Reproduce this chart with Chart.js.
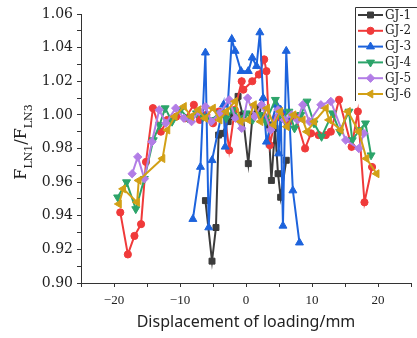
<!DOCTYPE html>
<html>
<head>
<meta charset="utf-8">
<script src="https://cdn.jsdelivr.net/npm/chart.js@4/dist/chart.umd.min.js"></script>
<style>
  html, body { margin: 0; padding: 0; background: #fff; }
</style>
</head>
<body>
<canvas id="grafico" width="417" height="338"></canvas>
<script>
// dados: [deslocamento (mm), F_LN1/F_LN3]
const seriesNames = ["GJ-1", "GJ-2", "GJ-3", "GJ-4", "GJ-5", "GJ-6"];

const gj1 = [[-6.15,0.949],[-5.15,0.913],[-4.55,0.933],[-4.15,0.988],[-3.6,0.989],[-2.7,0.996],[-1.9,0.999],[-1.2,1.011],[-0.5,1.000],[0.35,0.971],[1.0,1.000],[1.8,1.004],[2.6,0.999],[3.4,0.994],[3.85,0.961],[4.4,0.992],[4.85,0.965],[5.25,0.951],[6.1,0.973]];

const gj2 = [[-19.05,0.942],[-17.9,0.917],[-16.9,0.928],[-15.9,0.935],[-15.15,0.972],[-14.1,1.004],[-12.9,0.990],[-11.9,0.997],[-10.55,0.999],[-9.2,0.998],[-7.9,1.006],[-7.0,0.997],[-6.0,1.000],[-5.0,0.995],[-4.1,1.002],[-3.2,1.000],[-2.55,0.979],[-1.7,1.003],[-0.65,1.020],[-0.4,1.015],[0.95,1.020],[1.95,1.024],[2.75,1.033],[3.1,1.026],[3.6,0.982],[4.5,0.998],[5.5,1.000],[6.5,0.996],[7.5,0.999],[8.95,0.980],[9.85,0.989],[11.0,0.988],[12.1,0.988],[12.85,0.990],[14.1,1.009],[16.0,0.981],[16.95,1.002],[17.95,0.948],[19.1,0.969]];

const gj3 = [[-8.05,0.938],[-6.9,0.969],[-6.15,1.037],[-5.65,0.933],[-5.15,0.973],[-3.4,1.006],[-3.15,0.981],[-2.15,1.045],[-1.65,1.038],[-0.75,1.026],[0.35,1.026],[0.95,1.034],[1.6,1.029],[2.1,1.049],[2.6,1.010],[3.1,0.984],[4.6,1.006],[4.95,0.977],[5.25,1.003],[5.6,0.934],[6.1,1.038],[7.1,0.955],[8.1,0.924]];

const gj4 = [[-19.45,0.951],[-18.1,0.960],[-16.7,0.944],[-15.4,0.962],[-14.05,0.985],[-13.1,0.994],[-12.25,1.004],[-11.2,0.996],[-9.9,1.003],[-8.8,0.998],[-7.5,1.001],[-6.5,0.999],[-5.3,0.997],[-4.0,1.001],[-3.0,0.998],[-2.0,1.003],[-1.0,0.998],[0.0,1.001],[1.0,0.997],[2.0,1.000],[3.0,0.996],[4.45,1.009],[5.5,0.998],[6.5,1.002],[7.35,0.992],[8.3,1.000],[9.25,1.008],[10.3,0.995],[11.45,0.987],[13.1,1.001],[14.2,0.990],[15.6,1.002],[16.1,0.985],[17.2,0.991],[18.1,0.995],[18.95,0.976]];

const gj5 = [[-17.25,0.965],[-16.4,0.975],[-15.4,0.962],[-14.25,0.984],[-13.15,1.003],[-12.15,0.995],[-10.65,1.004],[-9.4,0.998],[-8.25,0.996],[-7.1,1.002],[-6.15,1.005],[-5.25,0.996],[-4.0,1.001],[-2.55,1.009],[-1.6,0.998],[-0.65,0.992],[0.25,1.010],[1.3,0.999],[2.35,1.006],[3.75,0.991],[4.85,1.003],[5.8,0.997],[6.9,1.000],[7.8,0.997],[8.6,1.006],[9.6,0.996],[11.35,1.006],[12.85,1.008],[15.1,0.985],[17.1,0.980],[17.85,0.989]];

const gj6 = [[-19.25,0.947],[-18.6,0.956],[-16.5,0.948],[-16.25,0.961],[-12.65,0.974],[-11.9,0.991],[-10.8,0.999],[-9.4,1.005],[-8.3,0.999],[-7.2,1.003],[-6.2,0.998],[-5.0,1.004],[-4.0,0.997],[-3.0,1.002],[-1.65,1.008],[-0.8,0.996],[0.35,0.997],[1.2,1.006],[2.2,0.996],[3.2,1.004],[4.2,0.994],[5.2,1.002],[6.2,0.993],[7.2,1.000],[8.6,0.997],[9.25,0.990],[10.35,0.996],[12.1,1.004],[12.6,0.997],[14.35,0.991],[15.45,1.002],[17.1,0.990],[18.25,0.974],[19.8,0.965]];

const xTickLabels = [-20, -10, 0, 10, 20];
const yTickLabels = [0.90, 0.92, 0.94, 0.96, 0.98, 1.00, 1.02, 1.04, 1.06];

// estilo
const cores = ["#3b3b3b", "#f03a3a", "#1d63dc", "#2ca46a", "#b27de6", "#d2a016"];
const marcadores = [
  { style: "rect", rot: 0, r: 4.2 },
  { style: "circle", rot: 0, r: 3.6 },
  { style: "triangle", rot: 0, r: 4.6 },
  { style: "triangle", rot: 180, r: 4.6 },
  { style: "rectRot", rot: 0, r: 4.2 },
  { style: "triangle", rot: -90, r: 4.6 }
];
const todas = [gj1, gj2, gj3, gj4, gj5, gj6];

const datasets = todas.map((serie, i) => ({
  label: seriesNames[i],
  data: serie.map(p => ({ x: p[0], y: p[1] })),
  showLine: true,
  borderColor: cores[i],
  backgroundColor: cores[i],
  borderWidth: 2,
  pointStyle: marcadores[i].style,
  rotation: marcadores[i].rot,
  pointRadius: marcadores[i].r,
  pointBorderWidth: 1,
  tension: 0,
  order: 6 - i
}));

// titulo do eixo Y com subscritos
const tituloY = {
  id: "tituloY",
  afterDraw(chart) {
    const ctx = chart.ctx;
    const partes = [["F", 16, 0], ["LN1", 11, 6], ["/F", 16, 0], ["LN3", 11, 6]];
    ctx.save();
    let total = 0;
    partes.forEach(p => { ctx.font = p[1] + "px 'DejaVu Serif'"; total += ctx.measureText(p[0]).width; });
    ctx.translate(22, 142);
    ctx.rotate(-Math.PI / 2);
    ctx.fillStyle = "#222";
    ctx.textBaseline = "alphabetic";
    let x = -total / 2;
    partes.forEach(p => {
      ctx.font = p[1] + "px 'DejaVu Serif'";
      ctx.fillText(p[0], x, 4 + p[2]);
      x += ctx.measureText(p[0]).width;
    });
    ctx.restore();
  }
};

// legenda desenhada a mao (caixa no canto superior direito)
const legenda = {
  id: "legenda",
  afterDraw(chart) {
    const ctx = chart.ctx;
    ctx.save();
    ctx.strokeStyle = "#333";
    ctx.lineWidth = 1;
    ctx.beginPath();
    ctx.moveTo(355.5, 101);
    ctx.lineTo(355.5, 7.5);
    ctx.lineTo(417, 7.5);
    ctx.stroke();
    seriesNames.forEach((nome, i) => {
      const y = 15 + i * 15.8;
      ctx.strokeStyle = cores[i];
      ctx.fillStyle = cores[i];
      ctx.lineWidth = 2;
      ctx.beginPath();
      ctx.moveTo(358, y);
      ctx.lineTo(383, y);
      ctx.stroke();
      ctx.lineWidth = 1;
      Chart.helpers.drawPoint(ctx, { pointStyle: marcadores[i].style, rotation: marcadores[i].rot, radius: marcadores[i].r, borderWidth: 1 }, 370.5, y);
      ctx.fillStyle = "#222";
      ctx.font = "12px 'DejaVu Serif'";
      ctx.textBaseline = "middle";
      ctx.fillText(nome, 385, y + 0.5);
    });
    ctx.restore();
  }
};

const ctx = document.getElementById("grafico").getContext("2d");
new Chart(ctx, {
  type: "scatter",
  data: { datasets },
  options: {
    responsive: false,
    animation: false,
    devicePixelRatio: 1,
    layout: { padding: { left: 0, top: 14, right: 4, bottom: 0 } },
    plugins: { legend: { display: false }, tooltip: { enabled: false } },
    scales: {
      x: {
        type: "linear",
        min: -25,
        max: 25,
        afterFit: s => { s.height = 55; },
        border: { display: true, color: "#333", width: 1 },
        grid: { drawOnChartArea: false, drawTicks: true, tickLength: 4, color: "#333" },
        ticks: {
          stepSize: 5,
          autoSkip: false,
          maxRotation: 0,
          padding: 6,
          color: "#222",
          font: { family: "'Liberation Serif'", size: 13 },
          callback: v => xTickLabels.includes(v) ? (v < 0 ? "\u2212" + Math.abs(v) : String(v)) : ""
        },
        title: {
          display: true,
          text: "Displacement of loading/mm",
          color: "#222",
          font: { family: "'Noto Sans'", size: 16 },
          padding: { top: 0, bottom: 6 }
        }
      },
      y: {
        min: 0.90,
        max: 1.06,
        afterFit: s => { s.width = 81; },
        border: { display: true, color: "#333", width: 1 },
        grid: { drawOnChartArea: false, drawTicks: true, tickLength: 4, color: "#333" },
        ticks: {
          stepSize: 0.01,
          autoSkip: false,
          padding: 4,
          color: "#222",
          font: { family: "'DejaVu Serif'", size: 14 },
          callback: v => {
            const lab = yTickLabels.find(t => Math.abs(t - v) < 1e-6);
            return lab !== undefined ? lab.toFixed(2) : "";
          }
        }
      }
    }
  },
  plugins: [tituloY, legenda]
});
</script>
</body>
</html>
